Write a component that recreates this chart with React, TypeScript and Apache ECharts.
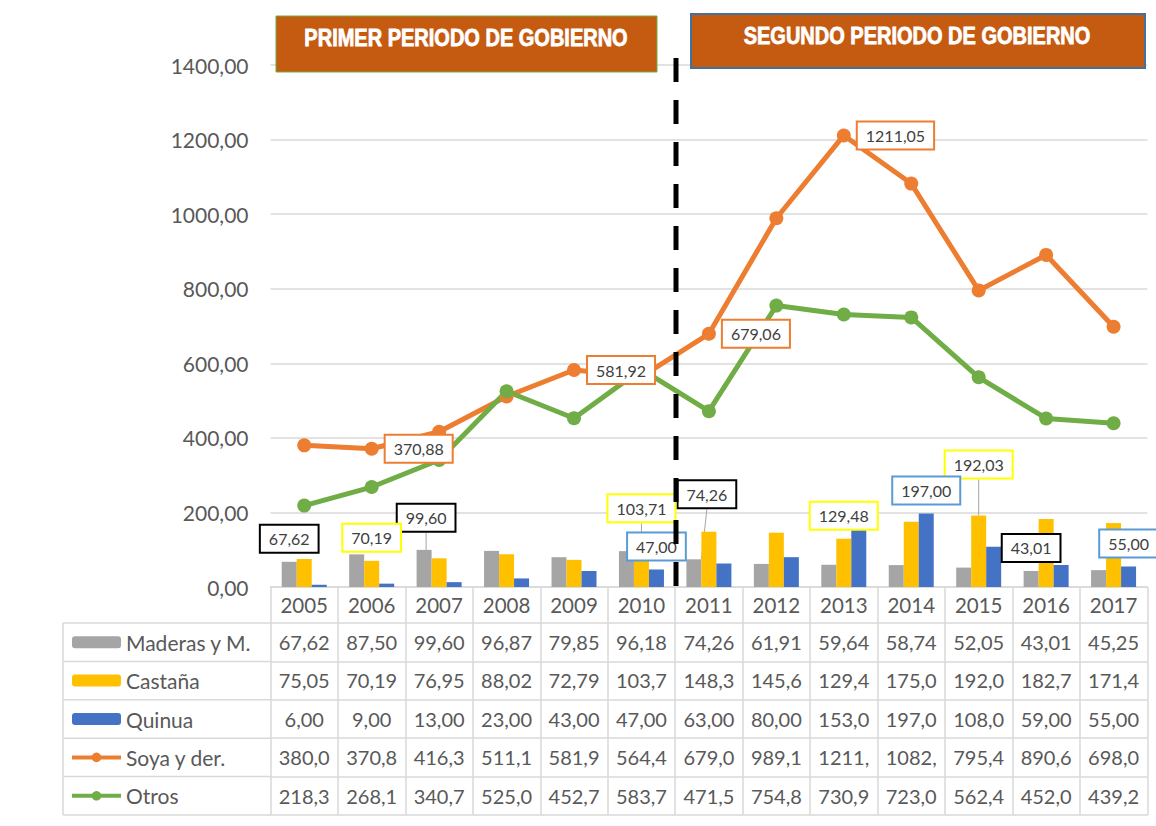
import { useEffect, useRef } from "react";
import * as echarts from "echarts";

const years = ["2005", "2006", "2007", "2008", "2009", "2010", "2011", "2012", "2013", "2014", "2015", "2016", "2017"];
const maderas = [67.62, 87.5, 99.6, 96.87, 79.85, 96.18, 74.26, 61.91, 59.64, 58.74, 52.05, 43.01, 45.25];
const castana = [75.05, 70.19, 76.95, 88.02, 72.79, 103.71, 148.3, 145.6, 129.48, 175.0, 192.03, 182.7, 171.4];
const quinua = [6, 9, 13, 23, 43, 47, 63, 80, 153, 197, 108, 59, 55];
const soya = [380.0, 370.88, 416.3, 511.1, 581.92, 564.4, 679.06, 989.1, 1211.05, 1082.0, 795.4, 890.6, 698.0];
const otros = [218.3, 268.1, 340.7, 525.0, 452.7, 583.7, 471.5, 754.8, 730.9, 723.0, 562.4, 452.0, 439.2];
const seriesNames = ["Maderas y M.", "Castaña", "Quinua", "Soya y der.", "Otros"];
const periodTitles = ["PRIMER PERIODO DE GOBIERNO", "SEGUNDO PERIODO DE GOBIERNO"];
const yMin = 0;
const yMax = 1400;
const yStep = 200;

// which points carry a callout label (index -> border colour / offsets)
type Callout = { color: string; dx?: number; dy?: number; line?: boolean };
const maderasCallouts: Record<number, Callout> = {
  0: { color: "#000000" },
  2: { color: "#000000", dx: 2, dy: -9, line: true },
  6: { color: "#000000", dx: 13, dy: -42, line: true },
  11: { color: "#000000" },
};
const castanaCallouts: Record<number, Callout> = {
  1: { color: "#FFFF00" },
  5: { color: "#FFFF00", dy: -17, line: true },
  8: { color: "#FFFF00" },
  10: { color: "#FFFF00", dy: -28, line: true },
};
const quinuaCallouts: Record<number, Callout> = {
  5: { color: "#5B9BD5" },
  9: { color: "#5B9BD5" },
  12: { color: "#5B9BD5" },
};
const soyaCallouts: Record<number, Callout> = {
  1: { color: "#ED7D31" },
  4: { color: "#ED7D31" },
  6: { color: "#ED7D31" },
  8: { color: "#ED7D31" },
};

const fmt = (v: number) => v.toFixed(2).replace(".", ",");
const cell = (v: number) => fmt(v).slice(0, 5);

const TEXT = "#595959";
const GRIDC = "#D9D9D9";
const FONT = "Lato";

export default function App() {
  const ref = useRef<HTMLDivElement>(null);

  useEffect(() => {
    if (!ref.current) return;
    const chart = echarts.init(ref.current, null, { renderer: "svg" });

    const gridLeft = 270.5;
    const gridRight = 8.7;
    const gridTop = 65;
    const axisY = 587;
    const headerH = 36;
    const rowH = 38.4;
    const legendLH = 24;

    const labelBase = {
      show: false,
      position: "top",
      distance: 10,
      formatter: (p: any) => fmt(p.value),
      backgroundColor: "#FFFFFF",
      borderWidth: 2,
      padding: [4, 8],
      fontSize: 16,
      lineHeight: 18,
      color: "#404040",
      fontFamily: FONT,
    };

    const withCallouts = (vals: number[], callouts: Record<number, Callout>) =>
      vals.map((v, i) => {
        const c = callouts[i];
        if (!c) return v;
        return {
          value: v,
          label: { show: true, borderColor: c.color },
          labelLine: { show: !!c.line, lineStyle: { color: "#A5A5A5", width: 1 } },
        };
      });

    const layoutFor = (callouts: Record<number, Callout>) => (p: any) => {
      const c = callouts[p.dataIndex];
      if (!c) return {};
      return { dx: c.dx || 0, dy: c.dy || 0 };
    };

    const tableRows = [maderas, castana, quinua, soya, otros];

    const xAxes: any[] = [
      {
        type: "category",
        data: years,
        gridIndex: 0,
        position: "bottom",
        axisLine: { show: true, lineStyle: { color: GRIDC, width: 1.5 } },
        axisTick: { show: true, interval: 0, length: headerH, lineStyle: { color: GRIDC, width: 1.5 } },
        axisLabel: { interval: 0, fontSize: 20.5, lineHeight: 20, color: TEXT, margin: 8, fontFamily: FONT },
        splitLine: { show: false },
      },
      ...tableRows.map((row, k) => ({
        type: "category",
        data: years,
        gridIndex: 0,
        position: "bottom",
        offset: headerH + rowH * k,
        axisLine: { show: true, lineStyle: { color: GRIDC, width: 1.5 } },
        axisTick: { show: true, interval: 0, length: rowH, lineStyle: { color: GRIDC, width: 1.5 } },
        axisLabel: {
          interval: 0,
          fontSize: 20,
          lineHeight: 20,
          color: TEXT,
          margin: 9,
          fontFamily: FONT,
          formatter: (_: string, i: number) => cell(row[i]),
        },
        splitLine: { show: false },
      })),
      {
        type: "category",
        data: years,
        gridIndex: 0,
        position: "bottom",
        offset: headerH + rowH * 5,
        axisLine: { show: true, lineStyle: { color: GRIDC, width: 1.5 } },
        axisTick: { show: false },
        axisLabel: { show: false },
        splitLine: { show: false },
      },
    ];

    const tableLeft = 63;
    const tableLines: any[] = [];
    for (let k = 0; k <= 5; k++) {
      const y = axisY + headerH + rowH * k;
      tableLines.push({
        type: "line",
        shape: { x1: tableLeft, y1: y, x2: gridLeft, y2: y },
        style: { stroke: GRIDC, lineWidth: 1.5 },
      });
    }
    tableLines.push({
      type: "line",
      shape: { x1: tableLeft, y1: axisY + headerH, x2: tableLeft, y2: axisY + headerH + rowH * 5 },
      style: { stroke: GRIDC, lineWidth: 1.5 },
    });

    const titleStyle = {
      fill: "#FFFFFF",
      stroke: "#FFFFFF",
      lineWidth: 0.7,
      fontSize: 20,
      fontWeight: "bold",
      fontFamily: "Liberation Sans",
      align: "center",
      verticalAlign: "middle",
    };

    const option: any = {
      animation: false,
      textStyle: { fontFamily: FONT },
      grid: { left: gridLeft, right: gridRight, top: gridTop, bottom: 826 - axisY, containLabel: false },
      legend: {
        orient: "vertical",
        left: 70,
        top: axisY + headerH + rowH / 2 - legendLH / 2,
        padding: 0,
        itemGap: rowH - legendLH,
        itemWidth: 49,
        itemHeight: 12,
        selectedMode: false,
        data: seriesNames,
        lineStyle: { width: 4 },
        textStyle: { fontSize: 21, lineHeight: legendLH, height: legendLH, color: TEXT, fontFamily: FONT },
      },
      xAxis: xAxes,
      yAxis: {
        type: "value",
        min: yMin,
        max: yMax,
        interval: yStep,
        axisLine: { show: false },
        axisTick: { show: false },
        axisLabel: { fontSize: 21, color: TEXT, margin: 22, fontFamily: FONT, formatter: (v: number) => fmt(v) },
        splitLine: { show: true, lineStyle: { color: GRIDC, width: 1.5 } },
      },
      series: [
        {
          name: seriesNames[0],
          type: "bar",
          barWidth: 15,
          barGap: "0%",
          itemStyle: { color: "#A5A5A5" },
          label: labelBase,
          labelLayout: layoutFor(maderasCallouts),
          data: withCallouts(maderas, maderasCallouts),
          z: 2,
        },
        {
          name: seriesNames[1],
          type: "bar",
          barWidth: 15,
          barGap: "0%",
          itemStyle: { color: "#FFC000" },
          label: labelBase,
          labelLayout: layoutFor(castanaCallouts),
          data: withCallouts(castana, castanaCallouts),
          z: 2,
        },
        {
          name: seriesNames[2],
          type: "bar",
          barWidth: 15,
          barGap: "0%",
          itemStyle: { color: "#4472C4" },
          label: labelBase,
          labelLayout: layoutFor(quinuaCallouts),
          data: withCallouts(quinua, quinuaCallouts),
          z: 2,
        },
        {
          name: seriesNames[3],
          type: "line",
          symbol: "circle",
          symbolSize: 14,
          lineStyle: { color: "#ED7D31", width: 5 },
          itemStyle: { color: "#ED7D31" },
          label: { ...labelBase, position: "right", distance: 7 },
          data: withCallouts(soya, soyaCallouts),
          z: 3,
        },
        {
          name: seriesNames[4],
          type: "line",
          symbol: "circle",
          symbolSize: 14,
          lineStyle: { color: "#70AD47", width: 5 },
          itemStyle: { color: "#70AD47" },
          data: otros,
          z: 3,
        },
      ],
      graphic: [
        ...tableLines,
        {
          type: "rect",
          shape: { x: 276, y: 16, width: 381, height: 56 },
          style: { fill: "#C55A11", stroke: "#70AD47", lineWidth: 1 },
          z: 50,
        },
        {
          type: "text",
          x: 466,
          y: 38,
          scaleY: 1.15,
          style: { ...titleStyle, text: periodTitles[0] },
          z: 51,
        },
        {
          type: "rect",
          shape: { x: 691, y: 14, width: 454, height: 54 },
          style: { fill: "#C55A11", stroke: "#41719C", lineWidth: 2 },
          z: 50,
        },
        {
          type: "text",
          x: 917,
          y: 36,
          scaleY: 1.15,
          style: { ...titleStyle, text: periodTitles[1] },
          z: 51,
        },
        {
          type: "line",
          shape: { x1: 676, y1: 58, x2: 676, y2: 590 },
          style: { stroke: "#000000", lineWidth: 5, lineDash: [24, 18] },
          z: 100,
        },
      ],
    };

    chart.setOption(option);
    return () => chart.dispose();
  }, []);

  return (
    <div
      ref={ref}
      style={{ position: "absolute", left: 0, top: 0, width: 1156, height: 826, background: "#FFFFFF" }}
    />
  );
}
